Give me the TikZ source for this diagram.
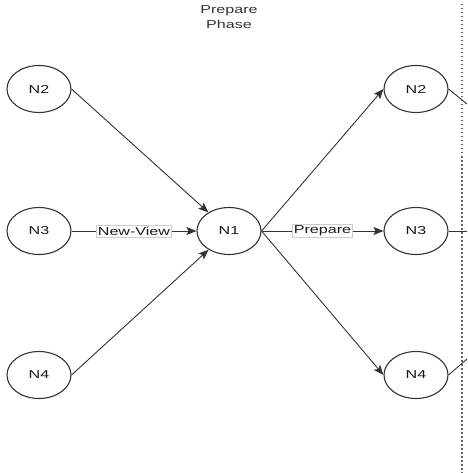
\documentclass[tikz,border=0pt]{standalone}
\usepackage{fontspec}
\setmainfont{Liberation Sans}
\newfontfamily\labfont[FakeStretch=1.4]{Liberation Sans}
\usetikzlibrary{shapes.geometric,arrows.meta}
\begin{document}
\begin{tikzpicture}[x=1pt,y=-1pt,
  replica/.style={ellipse,draw=black!80,line width=1.1pt,fill=white,
    minimum width=64pt,minimum height=47pt,inner sep=0pt,
    font=\labfont\fontsize{11.5}{13}\selectfont,text=black!90},
  msg/.style={draw=black!80,line width=0.9pt,
    -{Stealth[length=10pt,width=8pt,inset=2pt]}},
  link/.style={draw=black!80,line width=0.9pt},
  tag/.style={fill=white,draw=black!20,line width=0.4pt,inner sep=1.5pt,
    font=\labfont\fontsize{11.5}{13}\selectfont,text=black!90},
  phase/.style={font=\labfont\fontsize{11.5}{14.5}\selectfont,text=black!80,align=center}]
\useasboundingbox (0,0) rectangle (467,473);

% phase title
\node[phase] (title) at (229,17) {Prepare\\Phase};

% phase boundary
\coordinate (bTop) at (462,4);
\coordinate (bBot) at (462,473);
\draw[black!60,line width=1.5pt,dash pattern=on 1.5pt off 2.5pt] (bTop) -- (bBot);

% replicas
\node[replica] (l2) at (39,89) {N2};
\node[replica] (l3) at (39,231) {N3};
\node[replica] (l4) at (39,375) {N4};
\node[replica] (n1) at (229,231) {N1};
\node[replica] (r2) at (416,89) {N2};
\node[replica] (r3) at (416,231) {N3};
\node[replica] (r4) at (416,375) {N4};

% new-view messages to the leader
\draw[msg] (l2.east) -- (n1);
\draw[msg] (l4.east) -- (n1);
\draw[msg] (l3.east) -- node[tag] {New-View} (n1.west);

% prepare messages from the leader
\draw[msg] (n1.east) -- (r2.west);
\draw[msg] (n1.east) -- (r4.west);
\draw[msg] (n1.east) -- node[tag] {Prepare} (r3.west);

% edges continuing into the next phase
\coordinate (o2) at (467,104);
\coordinate (o3) at (467,231);
\coordinate (o4) at (467,359);
\draw[link] (r2.east) -- (o2);
\draw[link] (r3.east) -- (o3);
\draw[link] (r4.east) -- (o4);
\end{tikzpicture}
\end{document}
